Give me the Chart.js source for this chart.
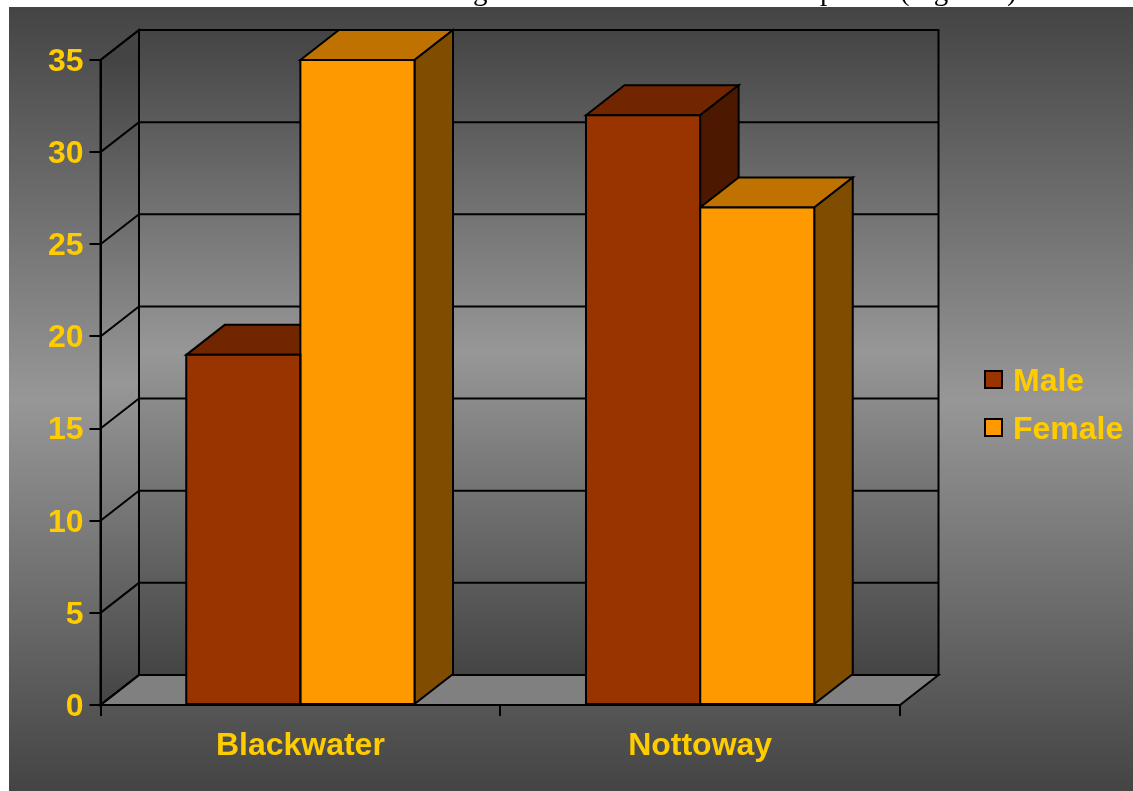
<!DOCTYPE html>
<html>
<head>
<meta charset="utf-8">
<title>Blackwater and Nottoway</title>
<script src="https://cdn.jsdelivr.net/npm/chart.js@4/dist/chart.umd.min.js"></script>
<style>
  html, body { margin: 0; padding: 0; background: #fff; overflow: hidden; }
  #wrap { position: relative; width: 1133px; height: 791px; }
  canvas { position: absolute; left: 0; top: 0; }
  /* caption of the page above the chart, only its descenders are left */
  #cut { position: absolute; left: 0; top: 0; width: 1133px; height: 7px; overflow: hidden; }
  #cut span { position: absolute; top: -26px; font: 29px/32px "Liberation Serif", serif; color: #000; white-space: nowrap; }
</style>
</head>
<body>
<div id="wrap">
  <canvas id="chart" width="1133" height="791"></canvas>
  <div id="cut">
    <span style="left:473px">g</span>
    <span style="left:820px">p</span>
    <span style="left:900px">(Figure 2)</span>
  </div>
</div>
<script>
const categories = ['Blackwater', 'Nottoway'];
const maleValues = [19, 32];
const femaleValues = [35, 27];
const seriesNames = ['Male', 'Female'];
const frontColors = ['#993300', '#FF9900'];
const topColors = ['#722600', '#BF7200'];
const sideColors = ['#4C1900', '#7F4C00'];

// how far the back wall sits from the front of the box
const depthX = 38.5;
const depthY = 30;
const gold = '#FFCC00';
const fontFamily = '"Liberation Sans", Arial, sans-serif';

function poly(ctx, pts, fill) {
  ctx.beginPath();
  pts.forEach((p, i) => i ? ctx.lineTo(p[0], p[1]) : ctx.moveTo(p[0], p[1]));
  ctx.closePath();
  if (fill) { ctx.fillStyle = fill; ctx.fill(); }
  ctx.strokeStyle = '#000';
  ctx.lineWidth = 2;
  ctx.stroke();
}

function darkLightDark(ctx, y0, y1) {
  const g = ctx.createLinearGradient(0, y0, 0, y1);
  g.addColorStop(0, '#444444');
  g.addColorStop(0.5, '#979797');
  g.addColorStop(1, '#444444');
  return g;
}

const box3d = {
  id: 'box3d',
  // slide background, back wall, side wall, floor
  beforeDraw(chart) {
    const { ctx, chartArea: a, scales: { y } } = chart;
    ctx.save();
    ctx.fillStyle = darkLightDark(ctx, 7, 791);
    ctx.fillRect(9, 7, chart.width - 9, chart.height - 7);

    const top = a.top, bot = a.bottom;
    poly(ctx, [[a.left + depthX, top - depthY], [a.right + depthX, top - depthY],
      [a.right + depthX, bot - depthY], [a.left + depthX, bot - depthY]],
      darkLightDark(ctx, top - depthY, bot - depthY));
    poly(ctx, [[a.left, top], [a.left + depthX, top - depthY],
      [a.left + depthX, bot - depthY], [a.left, bot]],
      darkLightDark(ctx, top, bot));
    poly(ctx, [[a.left, bot], [a.left + depthX, bot - depthY],
      [a.right + depthX, bot - depthY], [a.right, bot]], '#808080');

    y.ticks.forEach(t => {
      const py = y.getPixelForValue(t.value);
      ctx.beginPath();
      ctx.moveTo(a.left, py);
      ctx.lineTo(a.left + depthX, py - depthY);
      ctx.lineTo(a.right + depthX, py - depthY);
      ctx.strokeStyle = '#000';
      ctx.lineWidth = 2;
      ctx.stroke();
    });
    ctx.restore();
  },
  // top and side face of every bar, the library paints the front after this
  beforeDatasetsDraw(chart) {
    const { ctx } = chart;
    ctx.save();
    chart.data.datasets.forEach((ds, i) => {
      chart.getDatasetMeta(i).data.forEach(bar => {
        const l = bar.x - bar.width / 2, r = bar.x + bar.width / 2;
        poly(ctx, [[l, bar.y], [l + depthX, bar.y - depthY], [r + depthX, bar.y - depthY], [r, bar.y]], topColors[i]);
        poly(ctx, [[r, bar.y], [r + depthX, bar.y - depthY], [r + depthX, bar.base - depthY], [r, bar.base]], sideColors[i]);
      });
    });
    ctx.restore();
  },
  // outline of the fronts, centred so two neighbours share one line
  afterDatasetsDraw(chart) {
    const { ctx } = chart;
    ctx.save();
    chart.data.datasets.forEach((ds, i) => {
      chart.getDatasetMeta(i).data.forEach(bar => {
        const l = bar.x - bar.width / 2, r = bar.x + bar.width / 2;
        poly(ctx, [[l, bar.y], [r, bar.y], [r, bar.base], [l, bar.base]]);
      });
    });
    ctx.restore();
  },
  // legend sits beside the box, outside the layout
  afterDraw(chart) {
    const { ctx } = chart;
    ctx.save();
    ctx.font = 'bold 32px ' + fontFamily;
    ctx.textBaseline = 'middle';
    chart.data.datasets.forEach((ds, i) => {
      const cy = 380 + i * 48;
      ctx.fillStyle = ds.backgroundColor;
      ctx.strokeStyle = '#000';
      ctx.lineWidth = 2;
      ctx.fillRect(985, cy - 9, 17, 17);
      ctx.strokeRect(985, cy - 9, 17, 17);
      ctx.fillStyle = gold;
      ctx.fillText(ds.label, 1013, cy + 2);
    });
    ctx.restore();
  }
};

new Chart(document.getElementById('chart').getContext('2d'), {
  type: 'bar',
  data: {
    labels: categories,
    datasets: [
      { label: seriesNames[0], data: maleValues, backgroundColor: frontColors[0] },
      { label: seriesNames[1], data: femaleValues, backgroundColor: frontColors[1] }
    ]
  },
  options: {
    responsive: false,
    animation: false,
    layout: { padding: { left: 0, top: 60, right: 233, bottom: 0 } },
    datasets: { bar: { categoryPercentage: 0.571, barPercentage: 1, borderWidth: 0 } },
    scales: {
      x: {
        afterFit(s) { s.height = 86; },
        grid: { color: '#000', lineWidth: 2, tickLength: 11, drawOnChartArea: false },
        border: { color: '#000', width: 2 },
        ticks: { color: gold, font: { family: fontFamily, size: 32, weight: 'bold' }, padding: 11, maxRotation: 0 }
      },
      y: {
        min: 0,
        max: 35,
        afterFit(s) { s.width = 100.5; },
        grid: { color: '#000', lineWidth: 2, tickLength: 11, drawOnChartArea: false },
        border: { color: '#000', width: 2 },
        ticks: {
          stepSize: 5,
          color: gold,
          // empty first line with a 4px line height nudges the digits 2px down
          callback: v => ['', String(v)],
          font: { family: fontFamily, size: 32, weight: 'bold', lineHeight: '4px' },
          padding: 6
        }
      }
    },
    plugins: { legend: { display: false }, tooltip: { enabled: false } }
  },
  plugins: [box3d]
});
</script>
</body>
</html>
